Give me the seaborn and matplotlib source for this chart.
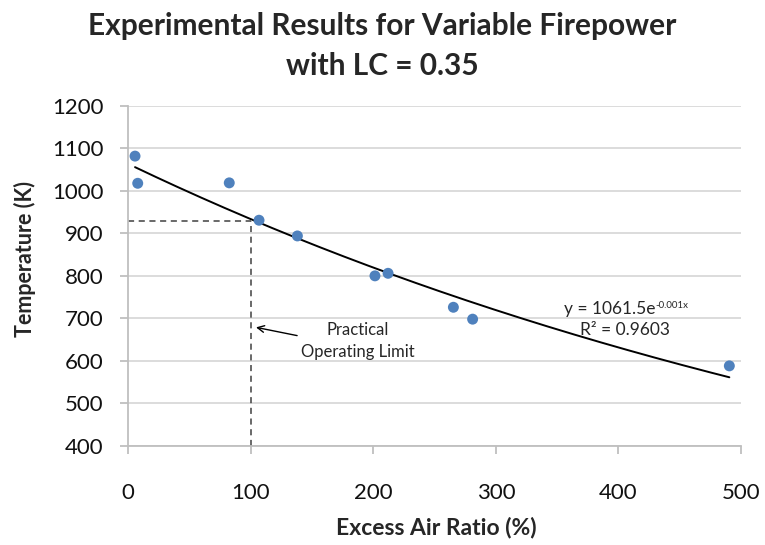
import numpy as np
import pandas as pd
import matplotlib
matplotlib.use("Agg")
import matplotlib.pyplot as plt
import seaborn as sns

# ---- data ----
excess_air = [5.5, 7.7, 82.4, 106.7, 138.0, 201.3, 212.0, 265.3, 281.0, 490.5]
temperature = [1082, 1018, 1019, 931, 894, 800, 806, 726, 698, 588]
x_ticks = [0, 100, 200, 300, 400, 500]
y_ticks = [400, 500, 600, 700, 800, 900, 1000, 1100, 1200]
limit_x = 100
limit_y = 930
title_lines = ["Experimental Results for Variable Firepower", "with LC = 0.35"]
equation_text = "y = 1061.5e"
equation_exp = "-0.001x"
r2_text = "R\u00b2 = 0.9603"

sns.set_theme(style="white")
plt.rcParams['font.family'] = ['Lato', 'DejaVu Sans']

df = pd.DataFrame({"x": excess_air, "y": temperature})

# exponential trendline (least squares on log y, like Excel)
b, ln_a = np.polyfit(df["x"], np.log(df["y"]), 1)
xs = np.linspace(df["x"].min(), df["x"].max(), 200)
trend = pd.DataFrame({"x": xs, "y": np.exp(ln_a) * np.exp(b * xs)})

fig = plt.figure(figsize=(7.65, 5.45), dpi=100)
ax = fig.add_axes([0.1677, 0.1822, 0.8009, 0.6233])

grid_c = "#d9d9d9"
axis_c = "#bfbfbf"

ax.set_xlim(0, 500)
ax.set_ylim(400, 1200)
ax.set_xticks(x_ticks)
ax.set_yticks(y_ticks)
ax.yaxis.grid(True, color=grid_c, lw=1.3)
ax.xaxis.grid(False)
ax.set_axisbelow(True)

for s in ["top", "right"]:
    ax.spines[s].set_visible(False)
for s in ["left", "bottom"]:
    ax.spines[s].set_color(axis_c)
    ax.spines[s].set_linewidth(1.3)

ax.tick_params(axis="x", direction="out", length=6, width=1.3, color=axis_c,
               pad=21, labelsize=16, labelcolor="#111111")
ax.tick_params(axis="y", direction="out", length=6, width=1.3, color=axis_c,
               pad=12, labelsize=16, labelcolor="#111111")
ax.tick_params(bottom=True, left=True)

# dashed guide lines
ax.plot([0, limit_x], [limit_y, limit_y], ls=(0, (4, 3)), color="#404040", lw=1.1, zorder=2)
ax.plot([limit_x, limit_x], [400, limit_y], ls=(0, (4, 3)), color="#404040", lw=1.1, zorder=2)

sns.lineplot(data=trend, x="x", y="y", ax=ax, color="black", lw=1.4, zorder=3)
sns.scatterplot(data=df, x="x", y="y", ax=ax, color="#4f81bd", s=62,
                edgecolor="none", zorder=4)

ax.set_xlabel("")
ax.set_ylabel("")
fig.text(436 / 765, 1 - 527 / 545, "Excess Air Ratio (%)", ha="center", va="center",
         fontsize=16.5, fontweight="bold")
fig.text(25 / 765, 1 - 259 / 545, "Temperature (K)", ha="center", va="center",
         rotation=90, fontsize=15.5, fontweight="bold")

# annotation
ax.annotate("", xy=(102, 680), xytext=(140, 658),
            arrowprops=dict(arrowstyle="->", color="black", lw=1.0))
ax.text(187, 673, "Practical", ha="center", va="center", fontsize=12)
ax.text(187, 621, "Operating Limit", ha="center", va="center", fontsize=12)

# equation
ax.text(430, 722, equation_text, ha="right", va="center", fontsize=12.5)
ax.text(430, 730, equation_exp, ha="left", va="center", fontsize=7)
ax.text(405, 672, r2_text, ha="center", va="center", fontsize=12.5)

fig.text(0.5, 1 - 26 / 545, title_lines[0], ha="center", va="center",
         fontsize=21.5, fontweight="bold")
fig.text(0.5, 1 - 66 / 545, title_lines[1], ha="center", va="center",
         fontsize=21.5, fontweight="bold")

fig.savefig("out.png", dpi=100, facecolor="white")
